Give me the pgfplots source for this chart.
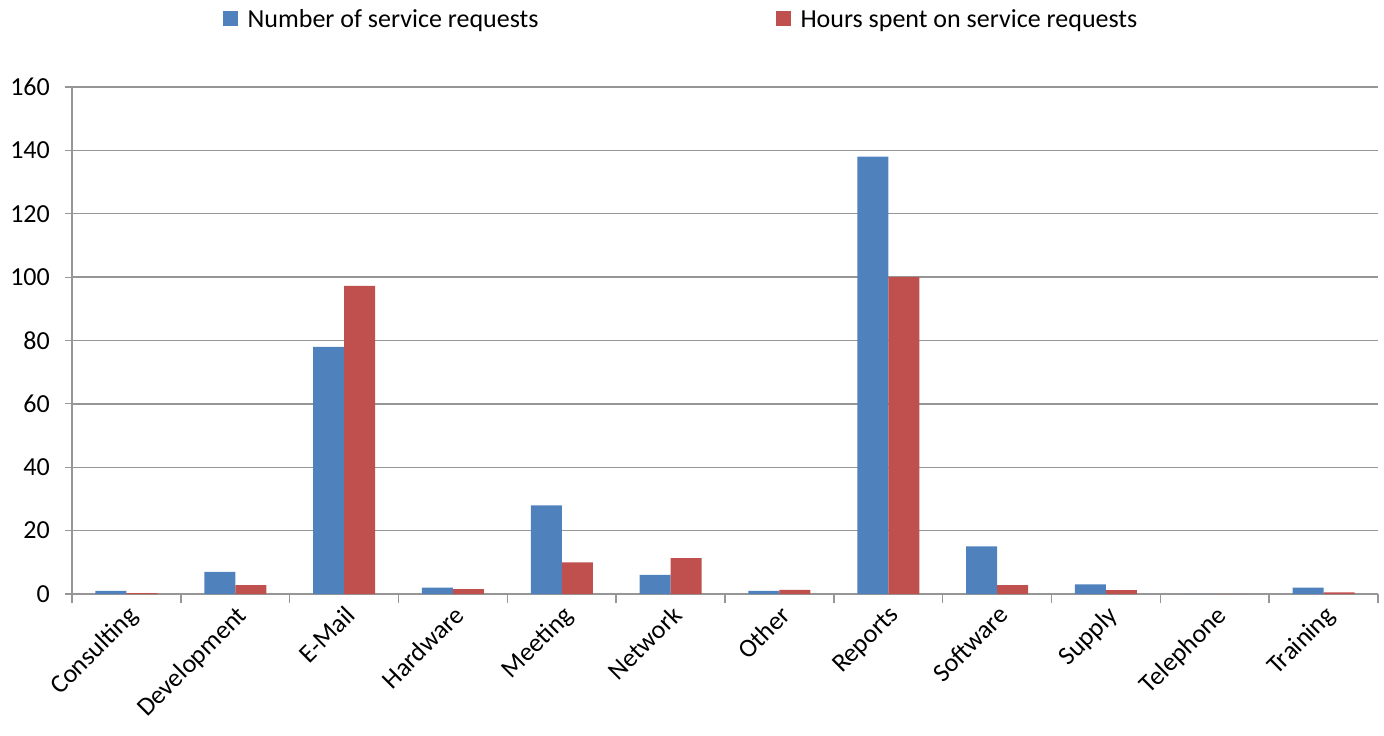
\documentclass[border=0pt]{standalone}
\usepackage{pgfplots}
\pgfplotsset{compat=1.18}
\usepackage{fontspec}
\setmainfont{Carlito}
\definecolor{cblue}{HTML}{4F81BD}
\definecolor{cred}{HTML}{C0504D}
\definecolor{cgrid}{HTML}{969696}
\begin{document}
\begin{tikzpicture}[x=1pt,y=1pt]
\useasboundingbox (-72,-142) rectangle (1312,594);
\begin{axis}[
  at={(0,0)}, anchor=south west,
  scale only axis, width=1306pt, height=507pt,
  ybar=0pt, bar width=31pt,
  xmin=-0.5, xmax=11.5, ymin=0, ymax=160,
  ytick={0,20,...,160},
  xtick={0,...,11},
  xticklabels={Consulting,Development,E-Mail,Hardware,Meeting,Network,Other,Reports,Software,Supply,Telephone,Training},
  minor xtick={-0.5,0.5,...,11.5},
  major x tick style={draw=none},
  minor x tick style={cgrid, line width=1.5pt},
  minor tick length=9pt,
  major tick length=7pt,
  tick align=outside,
  y tick style={cgrid, line width=1.2pt},
  axis x line*=bottom, axis y line*=left,
  x axis line style={cgrid, line width=1.8pt, -},
  y axis line style={cgrid, line width=1.2pt, -},
  ymajorgrids, grid style={cgrid, line width=1.5pt},
  every tick label/.append style={font=\fontsize{26}{28}\selectfont},
  /pgf/number format/assume math mode=true,
  xticklabel style={rotate=45, anchor=north east, inner sep=2pt},
  yticklabel style={inner sep=3pt, xshift=-12pt},
  legend style={at={(0.5,1)}, anchor=south, xshift=-44pt, yshift=54pt, draw=none, font=\fontsize{26}{28}\selectfont, legend columns=2, /tikz/every even column/.append style={column sep=235pt}},
  legend image code/.code={\fill[#1] (0pt,-7pt) rectangle (15pt,8pt); \path (23pt,0pt);},
  clip=false,
]
\addplot[fill=cblue, draw=none] coordinates {(0,1) (1,7) (2,78) (3,2) (4,28) (5,6) (6,1) (7,138) (8,15) (9,3) (10,0) (11,2)};
\addplot[fill=cred, draw=none] coordinates {(0,0.3) (1,2.8) (2,97.2) (3,1.5) (4,10) (5,11.3) (6,1.3) (7,100) (8,2.8) (9,1.2) (10,0) (11,0.5)};
\legend{Number of service requests, Hours spent on service requests}
\end{axis}
\end{tikzpicture}
\end{document}
